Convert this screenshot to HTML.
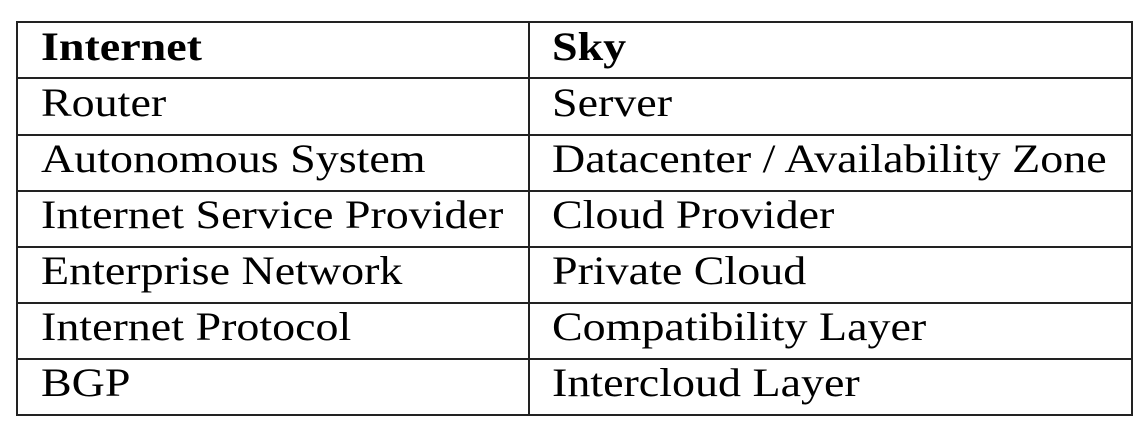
<!DOCTYPE html>
<html><head><meta charset="utf-8"><style>
html,body{margin:0;padding:0;background:#fff;}
svg{display:block;}
text{font-family:"Liberation Serif",serif;font-size:40px;fill:#000;}
</style></head><body>
<svg width="1148" height="422" viewBox="0 0 1148 422">
<g stroke="#222" stroke-width="2" fill="none">
<rect x="17" y="22" width="1115" height="393"/>
<line x1="529" y1="22" x2="529" y2="415"/>
<line x1="17" y1="78" x2="1132" y2="78"/>
<line x1="17" y1="135" x2="1132" y2="135"/>
<line x1="17" y1="191" x2="1132" y2="191"/>
<line x1="17" y1="247" x2="1132" y2="247"/>
<line x1="17" y1="303" x2="1132" y2="303"/>
<line x1="17" y1="359" x2="1132" y2="359"/>
</g>
<g transform="translate(41,0) scale(1.15,1)">
<text x="0" y="60" font-weight="bold">Internet</text>
<text x="0" y="116">Router</text>
<text x="0" y="172">Autonomous System</text>
<text x="0" y="228">Internet Service Provider</text>
<text x="0" y="284">Enterprise Network</text>
<text x="0" y="340">Internet Protocol</text>
<text x="0" y="396">BGP</text>
</g>
<g transform="translate(552,0) scale(1.15,1)">
<text x="0" y="60" font-weight="bold">Sky</text>
<text x="0" y="116">Server</text>
<text x="0" y="172">Datacenter / Availability Zone</text>
<text x="0" y="228">Cloud Provider</text>
<text x="0" y="284">Private Cloud</text>
<text x="0" y="340">Compatibility Layer</text>
<text x="0" y="396">Intercloud Layer</text>
</g>
</svg>
</body></html>
